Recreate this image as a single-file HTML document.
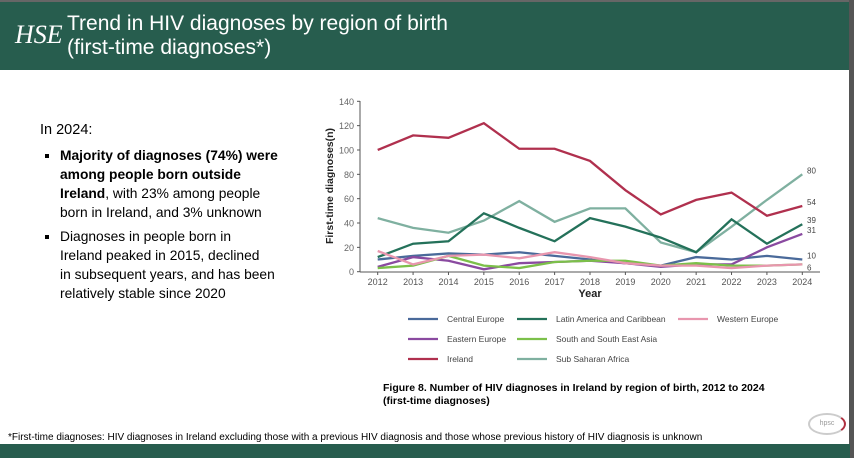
<!DOCTYPE html>
<html><head><meta charset="utf-8"><style>
body{margin:0;width:854px;height:458px;overflow:hidden;background:#fff;font-family:"Liberation Sans",sans-serif;position:relative}
#tb{position:absolute;left:0;top:0;width:854px;height:2px;background:#666}
#hdr{position:absolute;left:0;top:2px;width:850px;height:68px;background:#275d4e;color:#fff}
#title{position:absolute;left:67px;top:10px;font-size:21px;line-height:24px}
#rb{position:absolute;right:0;top:0;width:5px;height:458px;background:#555}
#foot{position:absolute;left:0;top:444px;width:850px;height:14px;background:#275d4e}
#left{position:absolute;left:40px;top:120px;width:280px;font-size:13.8px;line-height:19px;color:#000;white-space:nowrap}
#left ul{margin:6px 0 0 0;padding-left:20px;list-style:square}
#left li{margin-bottom:5px}
.t{position:absolute;font-size:11px;color:#000}
</style></head><body>
<div id="tb"></div>
<div id="hdr">
<div style="position:absolute;left:15px;top:18px;font-size:26px;font-style:italic;font-family:'Liberation Serif',serif">HSE</div>
<div id="title">Trend in HIV diagnoses by region of birth<br>(first-time diagnoses*)</div></div>
<div id="rb"></div>
<div id="left"><span style="font-size:14.5px">In 2024:</span>
<ul><li><b>Majority of diagnoses (74%) were<br>among people born outside<br>Ireland</b>, with 23% among people<br>born in Ireland, and 3% unknown</li>
<li>Diagnoses in people born in<br>Ireland peaked in 2015, declined<br>in subsequent years, and has been<br>relatively stable since 2020</li></ul></div>
<svg id="chart" width="854" height="458" style="position:absolute;left:0;top:0"></svg>
<div class="t" style="left:383px;top:382px;font-weight:bold;font-size:10.5px;line-height:13px">Figure 8. Number of HIV diagnoses in Ireland by region of birth, 2012 to 2024<br>(first-time diagnoses)</div>
<div class="t" style="left:8px;top:432px;font-size:10px">*First-time diagnoses: HIV diagnoses in Ireland excluding those with a previous HIV diagnosis and those whose previous history of HIV diagnosis is unknown</div>
<div style="position:absolute;left:808px;top:413px;width:34px;height:18px;border:2px solid #ccc;border-right-color:#b03040;border-radius:50%;font-size:7px;color:#999;text-align:center;line-height:18px">hpsc</div>
<div id="foot"></div>
<script>
const years=[2012,2013,2014,2015,2016,2017,2018,2019,2020,2021,2022,2023,2024];
const yTicks=[0,20,40,60,80,100,120,140];
const seriesNames=["Central Europe","Latin America and Caribbean","Western Europe","Eastern Europe","South and South East Asia","Ireland","Sub Saharan Africa"];
const seriesColors=["#4a6a9a","#24715a","#e896ae","#8a4aa0","#7cc04a","#b0304e","#7fb0a0"];
const centralEurope=[10,13,15,14,16,13,10,7,5,12,10,13,10];
const latinAmerica=[12,23,25,48,36,25,44,37,28,16,43,23,39];
const westernEurope=[17,6,13,14,11,16,12,7,5,5,3,5,6];
const easternEurope=[4,12,9,2,7,8,9,7,4,6,6,20,31];
const southAsia=[3,5,13,5,3,8,9,9,5,7,5,5,6];
const ireland=[100,112,110,122,101,101,91,67,47,59,65,46,54];
const subSaharan=[44,36,32,42,58,41,52,52,24,16,37,59,80];
const endLabels=["10","39","6","31","","54","80"];
const drawOrder=[6,1,0,3,4,2,5];
const allSeries=[centralEurope,latinAmerica,westernEurope,easternEurope,southAsia,ireland,subSaharan];
const svg=document.getElementById('chart');const NS='http://www.w3.org/2000/svg';
const x=i=>377.7+i*(802.3-377.7)/(years.length-1);
const y=v=>271.7-v*(271.7-101.3)/140;
function mk(t,a){const e=document.createElementNS(NS,t);for(const k in a)e.setAttribute(k,a[k]);svg.appendChild(e);return e;}
let ax=mk('line',{x1:360,y1:101,x2:360,y2:272,stroke:'#555'});

let bx=mk('line',{x1:360,y1:272,x2:820,y2:272,stroke:'#555'});

yTicks.forEach(v=>{mk('line',{x1:357,x2:360,y1:y(v),y2:y(v),stroke:'#555'});
const t=mk('text',{x:354,y:y(v)+3.5,'text-anchor':'end','font-size':9,fill:'#666'});t.textContent=v;
});
years.forEach((yr,i)=>{mk('line',{x1:x(i),x2:x(i),y1:272,y2:275,stroke:'#555'});
const t=mk('text',{x:x(i),y:285,'text-anchor':'middle','font-size':9,fill:'#555'});t.textContent=yr;
});
let xt=mk('text',{x:590,y:297,'text-anchor':'middle','font-size':11,'font-weight':'bold',fill:'#222'});xt.textContent='Year';

let yt=mk('text',{x:0,y:0,transform:'translate(333,186) rotate(-90)','text-anchor':'middle','font-size':10.5,'font-weight':'bold',fill:'#222'});yt.textContent='First-time diagnoses(n)';

drawOrder.forEach(s=>{const d=allSeries[s].map((v,i)=>(i?'L':'M')+x(i)+','+y(v)).join('');
const p=mk('path',{d:d,fill:'none',stroke:seriesColors[s],'stroke-width':2.3});


if(endLabels[s]){const v=allSeries[s][12];const t=mk('text',{x:807,y:y(v)+(s==0?-1:s==2?6:-1),'font-size':8,fill:'#444'});t.textContent=endLabels[s];
}});
const lx=[408,517,678],ly=[319,339,359];
const pos=[[0,0],[1,0],[2,0],[0,1],[1,1],[0,2],[1,2]];
seriesNames.forEach((n,s)=>{const [c,r]=pos[s];
const l=mk('line',{x1:lx[c],x2:lx[c]+30,y1:ly[r],y2:ly[r],stroke:seriesColors[s],'stroke-width':2.3});

const t=mk('text',{x:lx[c]+39,y:ly[r]+3,'font-size':8.5,fill:'#444'});t.textContent=n;
});
</script>
</body></html>
